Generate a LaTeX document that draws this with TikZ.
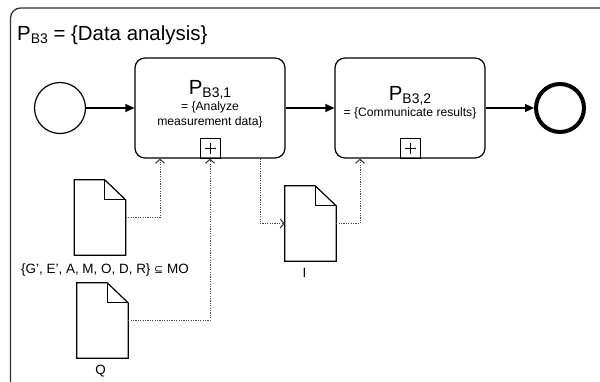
\documentclass[tikz,border=0pt]{standalone}
\usepackage{fontspec}
\setmainfont{Liberation Sans}
\newfontfamily\symfont{DejaVu Sans}
\usetikzlibrary{arrows.meta,calc}

% text with a lowered, smaller index as in P_{B3}
\newcommand\idx[2]{#1{\fontsize{14}{14}\selectfont\raisebox{-3.5bp}{#2}}}

\tikzset{
  lbl/.style={inner sep=0pt, anchor=base},
  bigtxt/.style={lbl, font=\fontsize{20.5}{22}\selectfont},
  smalltxt/.style={lbl, font=\fontsize{12.2}{14}\selectfont},
  doctxt/.style={lbl, font=\fontsize{13.5}{15}\selectfont},
  task/.style={draw, line width=1.2bp, rounded corners=10bp, minimum width=150bp, minimum height=100bp, inner sep=0pt},
  plusbox/.style={draw, line width=1bp, minimum width=20bp, minimum height=20bp, inner sep=0pt, anchor=south,
    path picture={\draw[line width=1bp] ([xshift=-5.5bp]path picture bounding box.center) -- ([xshift=5.5bp]path picture bounding box.center)
      ([yshift=-5.5bp]path picture bounding box.center) -- ([yshift=5.5bp]path picture bounding box.center);}},
  startev/.style={circle, draw, line width=1.2bp, minimum size=51bp, inner sep=0pt},
  endev/.style={circle, draw, line width=4bp, minimum size=48bp, inner sep=0pt},
  docnode/.style={minimum width=51bp, minimum height=75bp, inner sep=0pt},
  docline/.style={line width=1.2bp, line join=miter},
  seq/.style={line width=1.2bp, -{Triangle[length=9bp,width=8bp]}},
  assoc/.style={line width=1bp, gray!60!black, dash pattern=on 1.2bp off 1.2bp,
    -{Straight Barb[length=4bp,width=9bp,line width=1bp,black!80]}},
}

% page of a data object with its folded corner
\newcommand\docoutline[1]{%
  \draw[docline] (#1.north west) -- ([xshift=-21bp]#1.north east) -- ([yshift=-20bp]#1.north east)
    -- (#1.south east) -- (#1.south west) -- cycle;
  \draw[docline] ([xshift=-21bp]#1.north east) |- ([yshift=-20bp]#1.north east);}

\begin{document}
\begin{tikzpicture}[x=1bp, y=-1bp]
\useasboundingbox (0,0) rectangle (600,381);
\begin{scope}
  \clip (0,0) rectangle (600,381);
  % enclosing sub-process frame
  \draw[line width=1.3bp, black!80, rounded corners=10bp] (10.5,8) rectangle (640,410);
\end{scope}
\node[bigtxt, anchor=base west] (title) at (17,40) {\idx{P}{B3} = \{Data analysis\}};

% events and tasks
\node[startev] (start) at (60,108) {};
\node[task] (t1) at (210,108) {};
\node[task] (t2) at (410,108) {};
\node[endev] (stop) at (560,108) {};

\node[plusbox] (m1) at (t1.south) {};
\node[plusbox] (m2) at (t2.south) {};

\node[bigtxt] (t1a) at (210,94) {\idx{P}{B3,1}};
\node[smalltxt] (t1b) at (210,110.5) {= \{Analyze};
\node[smalltxt] (t1c) at (210,125) {measurement data\}};
\node[bigtxt] (t2a) at (410,100) {\idx{P}{B3,2}};
\node[smalltxt] (t2b) at (410,116.5) {= \{Communicate results\}};

% data objects
\node[docnode] (d1) at (100,217.5) {};
\node[docnode] (d2) at (102.5,320.5) {};
\node[docnode] (di) at (310.5,223.5) {};
\docoutline{d1}
\docoutline{d2}
\docoutline{di}
\node[doctxt] (d1l) at (105,273) {\{G’, E’, A, M, O, D, R\} {\symfont\fontsize{11}{12}\selectfont ⊆} MO};
\node[doctxt] (d2l) at (100.5,374) {Q};
\node[doctxt] (dil) at (304.5,277) {I};

% sequence flows
\draw[seq] (start) -- (t1);
\draw[seq] (t1) -- (t2);
\draw[seq] (t2) -- (stop);

% data associations
\draw[assoc] (d1.east) -| ([xshift=-50bp]t1.south);
\draw[assoc] (d2.east) -| (m1.south);
\draw[assoc] ([xshift=50bp]t1.south) |- (di.west);
\draw[assoc] (di.east) -| ([xshift=-50bp]t2.south);
\end{tikzpicture}
\end{document}
